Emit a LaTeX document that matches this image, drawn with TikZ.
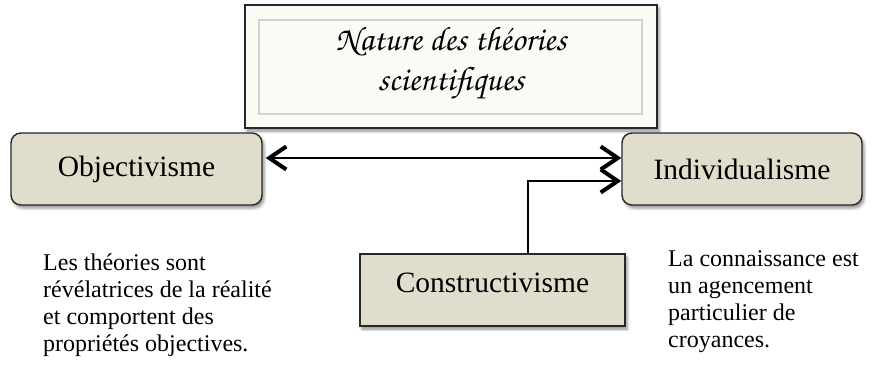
\documentclass[tikz,border=0pt]{standalone}
\usepackage[T1]{fontenc}
\usepackage{fontspec}
\setmainfont{Liberation Serif}
\usetikzlibrary{arrows.meta,shadows.blur}
\definecolor{boxfill}{RGB}{224,221,204}
\definecolor{titlefill}{RGB}{251,250,244}
\definecolor{edgecol}{RGB}{40,40,40}
\definecolor{framecol}{RGB}{210,210,204}
\newcommand{\chanceryfont}{\fontencoding{T1}\fontfamily{pzc}\fontseries{mb}\fontshape{it}\selectfont}
\tikzset{
  softshadow/.style={blur shadow={shadow xshift=2pt,shadow yshift=-3pt,shadow blur radius=3pt,shadow opacity=45}},
  titlebox/.style={draw=edgecol, line width=1.6pt, fill=titlefill, minimum width=412pt, minimum height=123pt, inner sep=0pt, softshadow},
  innerframe/.style={draw=framecol, line width=1.2pt, minimum width=383pt, minimum height=94pt, inner sep=0pt},
  titletext/.style={font=\chanceryfont\fontsize{34}{40}\selectfont, inner sep=0pt},
  concept/.style={draw=edgecol, line width=1.4pt, fill=boxfill, rounded corners=10pt, minimum height=72pt, inner sep=0pt, font=\fontsize{29.5}{34}\selectfont, softshadow},
  desc/.style={align=left, inner sep=0pt, font=\fontsize{24}{27}\selectfont},
  barb/.tip={Straight Barb[length=17pt,width=23pt,line width=4pt]},
  link/.style={draw=black, line width=2pt},
}
\begin{document}
\begin{tikzpicture}[x=1pt,y=-1pt]
\useasboundingbox (0,0) rectangle (879,367);
% title
\node[titlebox] (nature) at (451,66.5) {};
\node[innerframe] (frame) at (450.5,67) {};
\node[titletext, anchor=base] (t1) at (451,50) {Nature des théories};
\node[titletext, anchor=base] (t2) at (451,90) {scientifiques};
% concepts
\node[concept, minimum width=251pt] (obj) at (136.5,169) {Objectivisme};
\node[concept, minimum width=240pt] (ind) at (742,169) {Individualisme};
\node[concept, rounded corners=0pt, minimum width=265pt, text depth=14pt] (con) at (492.5,290) {Constructivisme};
% connectors
\draw[link, barb-barb, shorten <=3pt] ([yshift=11pt]obj.east) -- ([yshift=11pt]ind.west);
\draw[link, -barb] ([xshift=35.5pt]con.north) |- ([yshift=-12pt]ind.west);
% descriptions
\node[desc, anchor=north west] (dl) at (43,254) {Les théories sont\\révélatrices de la réalité\\et comportent des\\propriétés objectives.};
\node[desc, anchor=north west] (dr) at (668,250) {La connaissance est\\un agencement\\particulier de\\croyances.};
\end{tikzpicture}
\end{document}
